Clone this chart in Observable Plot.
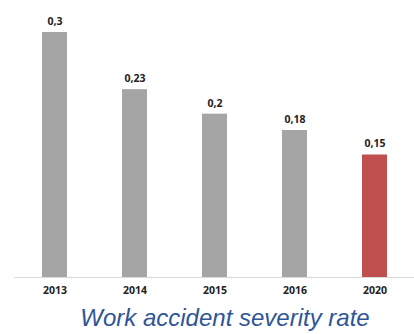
<!DOCTYPE html>
<html>
<head>
<meta charset="utf-8">
<script src="https://cdn.jsdelivr.net/npm/d3@7"></script>
<script src="https://cdn.jsdelivr.net/npm/@observablehq/plot@0.6"></script>
<style>
  html, body { margin: 0; padding: 0; background: #fff; }
  #chart { width: 414px; }
  #title {
    width: 414px;
    text-align: center;
    font-family: "Liberation Sans", Arial, sans-serif;
    font-style: italic;
    font-size: 24px;
    color: #2f5597;
    margin-top: 5px;
    padding-left: 36px;
    box-sizing: border-box;
    line-height: 26px;
  }
</style>
</head>
<body>
<div id="chart"></div>
<div id="title">Work accident severity rate</div>
<script>
const years = ["2013", "2014", "2015", "2016", "2020"];
const rates = [0.3, 0.23, 0.2, 0.18, 0.15];
const labels = ["0,3", "0,23", "0,2", "0,18", "0,15"];
const barColors = ["#a5a5a5", "#a5a5a5", "#a5a5a5", "#a5a5a5", "#c0504d"];

const data = years.map((y, i) => ({year: y, rate: rates[i], label: labels[i], color: barColors[i]}));

const chart = Plot.plot({
  width: 414,
  height: 300,
  marginTop: 32,
  marginBottom: 23,
  marginLeft: 14,
  marginRight: 0,
  style: {fontFamily: "'Open Sans', sans-serif", background: "#fff"},
  x: {domain: years, paddingInner: 0.6875, paddingOuter: 0.34375, label: null},
  y: {domain: [0, 0.3], axis: null},
  marks: [
    Plot.barY(data, {x: "year", y: "rate", fill: "color"}),
    Plot.ruleY([0], {stroke: "#d9d9d9", strokeWidth: 1}),
    Plot.text(data, {x: "year", y: "rate", text: "label", dy: -11, fontSize: 10.5, fontWeight: "bold", fill: "#222"}),
    Plot.axisX({tickSize: 0, tickPadding: 9, fontSize: 10.5, fontWeight: "bold", color: "#222", label: null})
  ]
});
document.getElementById("chart").appendChild(chart);
</script>
</body>
</html>
